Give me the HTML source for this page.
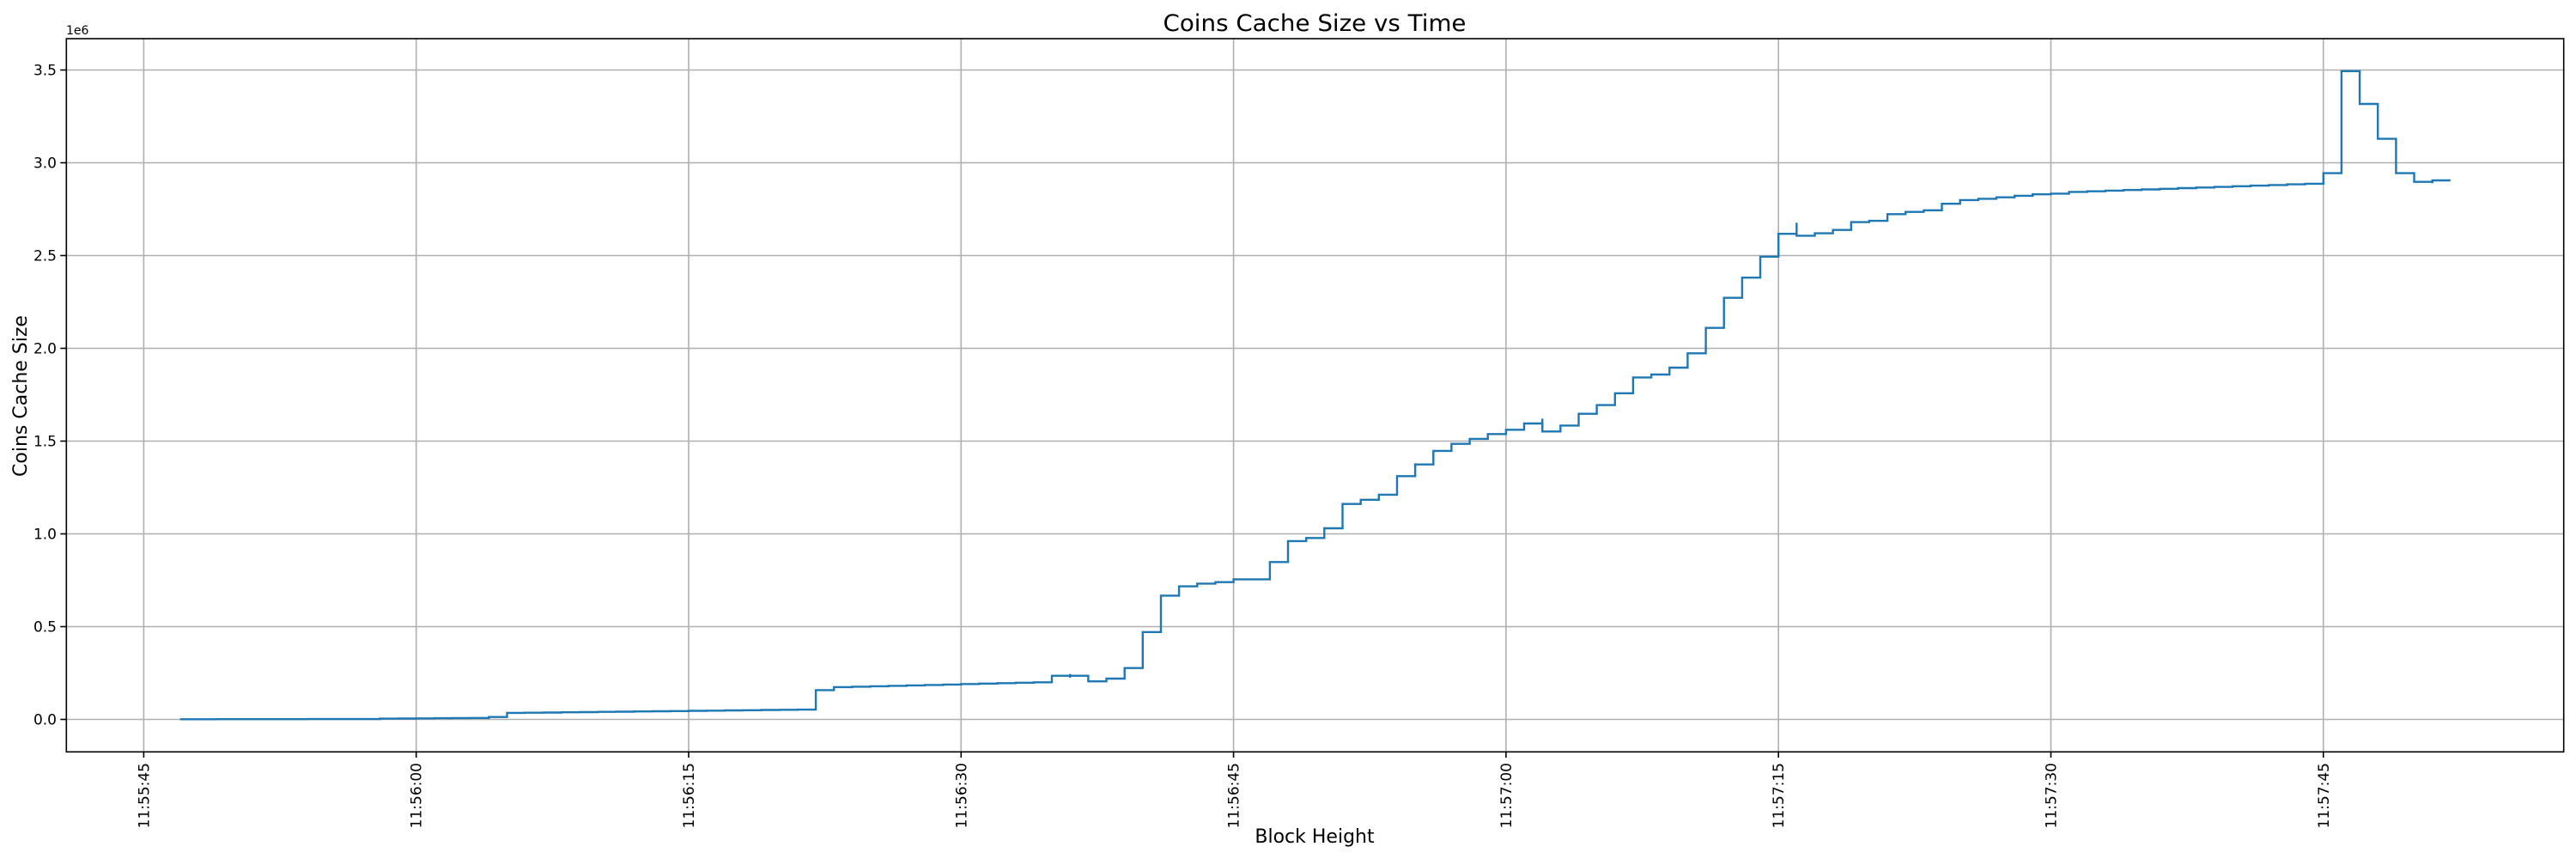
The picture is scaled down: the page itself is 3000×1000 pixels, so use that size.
<!DOCTYPE html>
<html><head><meta charset="utf-8"><style>
html,body{margin:0;padding:0;background:#fff;}
svg{display:block;font-family:"DejaVu Sans","Liberation Sans",sans-serif;}
</style></head><body>
<svg id="s" width="3000" height="1000" viewBox="0 0 3000 1000" xmlns="http://www.w3.org/2000/svg">
<rect width="3000" height="1000" fill="#fff"/>
<g id="grid" stroke="#b0b0b0" stroke-width="1.6"></g>
<g id="ticks" stroke="#000" stroke-width="1.6"></g>
<g id="labels" font-size="17" fill="#000"></g>
<path id="line" fill="none" stroke="#1f77b4" stroke-width="2.4" stroke-linejoin="miter"/>
<rect x="77.3" y="45" width="2908.4" height="830.3" fill="none" stroke="#000" stroke-width="1.6"/>
<text x="1531" y="36" font-size="27" text-anchor="middle" textLength="353" lengthAdjust="spacingAndGlyphs">Coins Cache Size vs Time</text>
<text x="1531" y="981" font-size="22" text-anchor="middle">Block Height</text>
<text transform="translate(31,461) rotate(-90)" font-size="22" text-anchor="middle">Coins Cache Size</text>
<text x="77" y="40" font-size="14">1e6</text>
</svg>
<script>
(function(){
var NS="http://www.w3.org/2000/svg";
function X(t){return 167.4+21.153*t;}
function Y(v){return 837.5-216*v;}
function el(p,n,a,txt){var e=document.createElementNS(NS,n);for(var k in a)e.setAttribute(k,a[k]);if(txt)e.textContent=txt;p.appendChild(e);return e;}
var g=document.getElementById('grid'),tk=document.getElementById('ticks'),lb=document.getElementById('labels');
var xl=['11:55:45','11:56:00','11:56:15','11:56:30','11:56:45','11:57:00','11:57:15','11:57:30','11:57:45'];
for(var k=0;k<9;k++){var x=X(15*k);
 el(g,'line',{x1:x,y1:45,x2:x,y2:875.3});
 el(tk,'line',{x1:x,y1:875.3,x2:x,y2:882});
 el(lb,'text',{transform:'translate('+(x+6)+',888) rotate(-90)','text-anchor':'end'},xl[k]);}
for(var i=0;i<=7;i++){var v=i*0.5,y=Y(v);
 el(g,'line',{x1:77.3,y1:y,x2:2985.7,y2:y});
 el(tk,'line',{x1:70.3,y1:y,x2:77.3,y2:y});
 el(lb,'text',{x:66,y:y+6,'text-anchor':'end'},v.toFixed(1));}
var d={};
for(var t=2;t<=12;t++)d[t]=0.001+0.0001*(t-2);
for(t=13;t<=18;t++)d[t]=0.004+0.0008*(t-13);
d[19]=0.013;
for(t=20;t<=36;t++)d[t]=0.035+(0.053-0.035)*(t-20)/16;
for(t=37;t<=49;t++)d[t]=(t==37)?0.158:0.174+(0.200-0.174)*(t-38)/11;
var m={50:0.235,51:0.235,52:0.205,53:0.22,54:0.277,55:0.471,56:0.667,57:0.717,58:0.732,59:0.740,60:0.755,61:0.755,62:0.848,63:0.961,64:0.978,65:1.030,66:1.161,67:1.184,68:1.211,69:1.311,70:1.374,71:1.447,72:1.485,73:1.512,74:1.538,75:1.561,76:1.595,77:1.552,78:1.584,79:1.647,80:1.694,81:1.758,82:1.843,83:1.859,84:1.896,85:1.973,86:2.110,87:2.272,88:2.381,89:2.494,90:2.617,91:2.607,92:2.620,93:2.638,94:2.680,95:2.687,96:2.723,97:2.735,98:2.744,99:2.779,100:2.799,101:2.806,102:2.814,103:2.822,104:2.830,105:2.834};
for(var kk in m)d[kk]=m[kk];
for(t=106;t<=119;t++)d[t]=2.843+(2.887-2.843)*(t-106)/13;
var m2={120:2.944,121:3.494,122:3.317,123:3.129,124:2.944,125:2.897,126:2.905};
for(kk in m2)d[kk]=m2[kk];
var p='M'+X(2).toFixed(1)+' '+Y(d[2]).toFixed(1);
for(t=2;t<=126;t++){
 if(t>2)p+=' L'+X(t).toFixed(1)+' '+Y(d[t]).toFixed(1);
 p+=' L'+X(t+1).toFixed(1)+' '+Y(d[t]).toFixed(1);
}
document.getElementById('line').setAttribute('d',p);
var s=document.getElementById('s');
function spike(t,v1,v2){el(s,'line',{x1:X(t),y1:Y(v1),x2:X(t),y2:Y(v2),stroke:'#1f77b4','stroke-width':2.4});}
spike(77,1.552,1.621);spike(91,2.607,2.677);spike(51,0.225,0.245);spike(70,1.36,1.38);spike(126,2.89,2.905);
})();
</script>
</body></html>
